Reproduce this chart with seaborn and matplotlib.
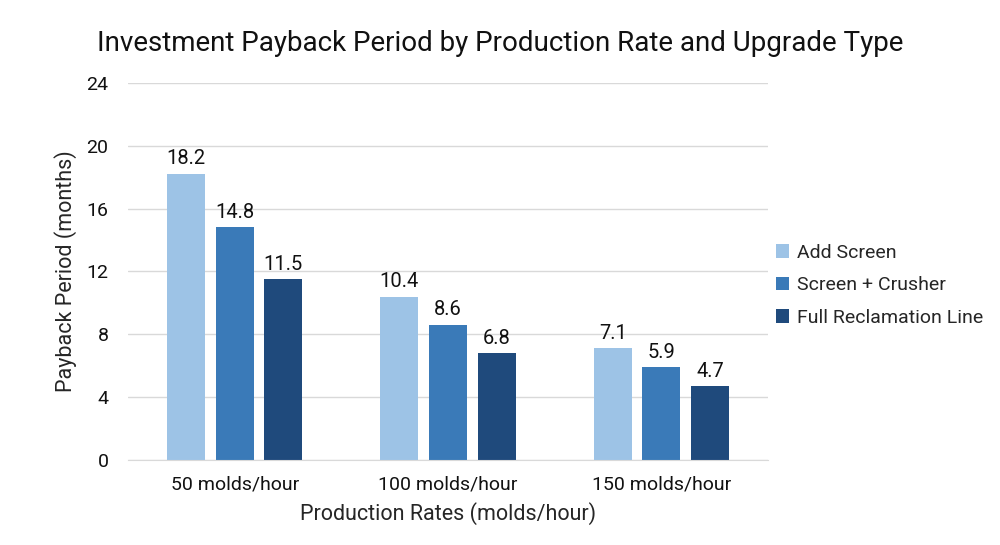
import pandas as pd
import seaborn as sns
import matplotlib.pyplot as plt

# data
rates = ["50 molds/hour", "100 molds/hour", "150 molds/hour"]
upgrades = ["Add Screen", "Screen + Crusher", "Full Reclamation Line"]
add_screen = [18.2, 10.4, 7.1]
screen_crusher = [14.8, 8.6, 5.9]
full_line = [11.5, 6.8, 4.7]
colors = ["#9DC3E6", "#3A7AB8", "#1F4A7C"]

df = pd.DataFrame({
    "rate": rates * 3,
    "upgrade": [u for u in upgrades for _ in rates],
    "months": add_screen + screen_crusher + full_line,
})

sns.set_style("white")
plt.rcParams["font.family"] = ["Roboto", "DejaVu Sans"]

fig = plt.figure(figsize=(10, 5.45), dpi=100)
ax = fig.add_axes([0.128, 0.156, 0.64, 0.692])

sns.barplot(data=df, x="rate", y="months", hue="upgrade", order=rates,
            hue_order=upgrades, palette=colors, width=0.684, gap=0.22,
            saturation=1, linewidth=0, ax=ax)

for cont in ax.containers:
    ax.bar_label(cont, fmt="%.1f", padding=4, fontsize=14.5, color="#111111")

ax.set_xlim(-0.5, 2.5)
ax.set_ylim(0, 24)
ax.set_yticks(range(0, 25, 4))
ax.yaxis.grid(True, color="#d9d9d9", linewidth=1)
ax.set_axisbelow(True)
for s in ["top", "right", "left"]:
    ax.spines[s].set_visible(False)
ax.spines["bottom"].set_color("#d9d9d9")
ax.tick_params(axis="both", length=0, labelsize=14, colors="#111111")
ax.tick_params(axis="x", pad=11)
ax.tick_params(axis="y", pad=14)

ax.set_xlabel("Production Rates (molds/hour)", fontsize=15.5, labelpad=6)
ax.set_ylabel("Payback Period (months)", fontsize=15.5, labelpad=7)
fig.suptitle("Investment Payback Period by Production Rate and Upgrade Type",
             fontsize=20, x=0.5, y=0.945, color="#111111")

ax.legend(loc="center left", bbox_to_anchor=(1.0, 0.463), frameon=False,
          fontsize=14, handlelength=0.7, handleheight=0.7, handletextpad=0.4,
          labelspacing=0.75, borderaxespad=0.0)

fig.savefig("out.png", dpi=100)
